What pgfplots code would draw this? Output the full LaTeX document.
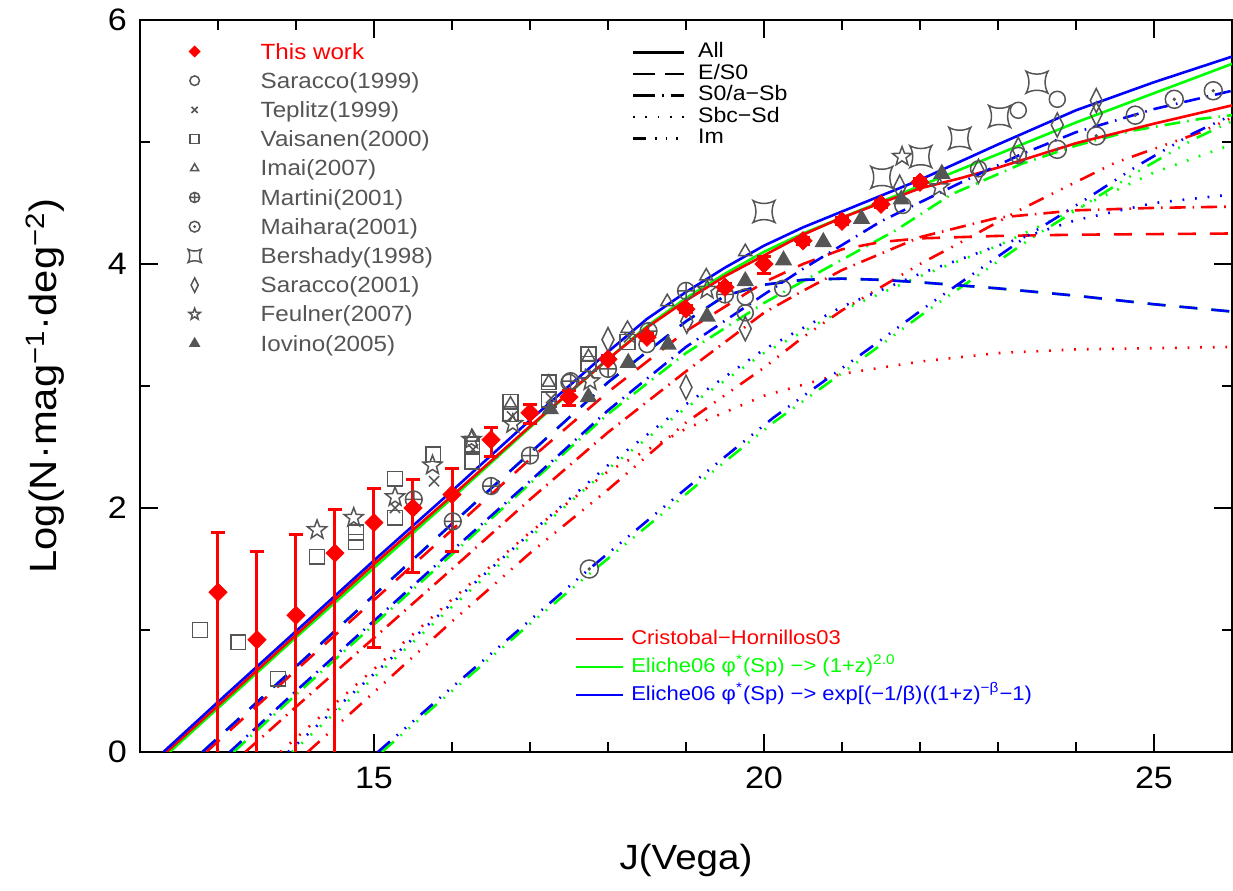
\documentclass[border=0pt]{standalone}
\usepackage{fontspec}
\setmainfont{Liberation Sans}[FakeStretch=1.1]
\usepackage{pgfplots}
\pgfplotsset{compat=1.18}
\usetikzlibrary{plotmarks}
\definecolor{dgray}{RGB}{85,85,85}

\pgfdeclareplotmark{odot}{%
  \pgfpathcircle{\pgfpointorigin}{\pgfplotmarksize}\pgfusepathqstroke
  \pgfpathcircle{\pgfpointorigin}{0.1\pgfplotmarksize}\pgfusepathqfillstroke}
\pgfdeclareplotmark{csquare}{%
  \pgfpathmoveto{\pgfqpoint{-\pgfplotmarksize}{-\pgfplotmarksize}}%
  \pgfpathcurveto{\pgfqpoint{-0.4\pgfplotmarksize}{-0.65\pgfplotmarksize}}{\pgfqpoint{0.4\pgfplotmarksize}{-0.65\pgfplotmarksize}}{\pgfqpoint{\pgfplotmarksize}{-\pgfplotmarksize}}%
  \pgfpathcurveto{\pgfqpoint{0.65\pgfplotmarksize}{-0.4\pgfplotmarksize}}{\pgfqpoint{0.65\pgfplotmarksize}{0.4\pgfplotmarksize}}{\pgfqpoint{\pgfplotmarksize}{\pgfplotmarksize}}%
  \pgfpathcurveto{\pgfqpoint{0.4\pgfplotmarksize}{0.65\pgfplotmarksize}}{\pgfqpoint{-0.4\pgfplotmarksize}{0.65\pgfplotmarksize}}{\pgfqpoint{-\pgfplotmarksize}{\pgfplotmarksize}}%
  \pgfpathcurveto{\pgfqpoint{-0.65\pgfplotmarksize}{0.4\pgfplotmarksize}}{\pgfqpoint{-0.65\pgfplotmarksize}{-0.4\pgfplotmarksize}}{\pgfqpoint{-\pgfplotmarksize}{-\pgfplotmarksize}}%
  \pgfpathclose\pgfusepathqstroke}
\pgfdeclareplotmark{tdiamond}{%
  \pgfpathmoveto{\pgfqpoint{0pt}{\pgfplotmarksize}}%
  \pgfpathlineto{\pgfqpoint{0.5\pgfplotmarksize}{0pt}}%
  \pgfpathlineto{\pgfqpoint{0pt}{-\pgfplotmarksize}}%
  \pgfpathlineto{\pgfqpoint{-0.5\pgfplotmarksize}{0pt}}%
  \pgfpathclose\pgfusepathqstroke}
\pgfdeclareplotmark{ostar}{%
  \pgfpathmoveto{\pgfpointpolar{90}{\pgfplotmarksize}}%
  \pgfpathlineto{\pgfpointpolar{126}{0.42\pgfplotmarksize}}%
  \pgfpathlineto{\pgfpointpolar{162}{\pgfplotmarksize}}%
  \pgfpathlineto{\pgfpointpolar{198}{0.42\pgfplotmarksize}}%
  \pgfpathlineto{\pgfpointpolar{234}{\pgfplotmarksize}}%
  \pgfpathlineto{\pgfpointpolar{270}{0.42\pgfplotmarksize}}%
  \pgfpathlineto{\pgfpointpolar{306}{\pgfplotmarksize}}%
  \pgfpathlineto{\pgfpointpolar{342}{0.42\pgfplotmarksize}}%
  \pgfpathlineto{\pgfpointpolar{18}{\pgfplotmarksize}}%
  \pgfpathlineto{\pgfpointpolar{54}{0.42\pgfplotmarksize}}%
  \pgfpathclose\pgfusepathqstroke}

\tikzset{
  lsolid/.style={line width=1.3pt, solid},
  ldash/.style={line width=1.3pt, dash pattern=on 9pt off 7pt},
  ldashdot/.style={line width=1.3pt, dash pattern=on 8pt off 3.5pt on 0.8pt off 3.5pt},
  ldot/.style={line width=1.3pt, dash pattern=on 0.9pt off 5.4pt},
  lim/.style={line width=1.3pt, dash pattern=on 8pt off 4.5pt on 0.8pt off 4.5pt on 0.8pt off 4.5pt on 0.8pt off 4.5pt},
  gm/.style={only marks, dgray, line width=0.75pt},
}
\pgfplotsset{
  base/.style={scale only axis, width=546pt, height=366pt,
    xmin=12, xmax=26, ymin=0, ymax=6},
}

\begin{document}
\begin{tikzpicture}
\begin{axis}[base,
  xtick={15,20,25}, ytick={0,2,4,6},
  minor xtick={12,...,26}, minor ytick={1,3,5},
  tick align=inside, major tick length=9pt, minor tick length=5pt,
  every tick/.style={black, line width=1pt},
  axis line style={line width=1pt},
  tick label style={font=\fontsize{15.5}{18}\selectfont},
  /pgf/number format/assume math mode=true,
  xticklabel style={yshift=-4pt}, yticklabel style={xshift=-3pt},
  xlabel={J(Vega)},
  ylabel={Log(N·mag\textsuperscript{−1}·deg\textsuperscript{−2})},
  label style={font=\fontsize{19}{22}\selectfont},
  xlabel style={at={(axis description cs:0.5,-0.1475)}, anchor=center, font=\fontsize{17.5}{21}\selectfont},
  ylabel style={at={(axis description cs:-0.087,0.5)}, anchor=center},
]
\coordinate (SW) at (rel axis cs:0,0);
\coordinate (NE) at (rel axis cs:1,1);

% ---------- Green model (Eliche06, (1+z)^2) ----------
\addplot[green, lsolid] coordinates {(12.38,0)(13,0.36)(14,0.94)(15,1.51)(16,2.08)(17,2.66)(18,3.22)(18.5,3.49)(19,3.72)(19.5,3.92)(20,4.1)(20.5,4.25)(21,4.38)(22,4.64)(23,4.9)(24,5.16)(25,5.4)(26,5.64)};
\addplot[green, ldash] coordinates {(12.8,0)(14,0.7)(16,1.87)(17,2.45)(18,3.03)(18.7,3.38)(19,3.53)(19.5,3.74)(20,3.83)(20.5,3.87)(21,3.88)(21.5,3.87)(22,3.85)(23,3.8)(24,3.74)(25,3.67)(26,3.61)};
\addplot[green, ldashdot] coordinates {(13.2,0)(14,0.47)(16,1.62)(17,2.2)(18,2.77)(19,3.27)(20,3.68)(20.7,3.93)(21.7,4.28)(22.4,4.57)(23.3,4.82)(24,4.97)(24.7,5.09)(25.6,5.19)(26,5.22)};
\addplot[green, ldot] coordinates {(13.95,0)(15,0.61)(16,1.19)(17,1.76)(18,2.32)(19,2.82)(20,3.27)(21,3.62)(22,3.9)(23,4.15)(24,4.45)(25,4.75)(26,4.98)};
\addplot[green, lim] coordinates {(15.1,0)(16,0.5)(17,1.05)(17.8,1.48)(18.9,2.06)(19.5,2.38)(20.12,2.7)(20.77,3.0)(21.4,3.29)(22.1,3.62)(22.75,3.91)(23.4,4.2)(24.1,4.48)(24.8,4.76)(25.5,5.02)(26,5.17)};

% ---------- Red model (Cristobal-Hornillos03) ----------
\addplot[red, lsolid] coordinates {(12.34,0)(13,0.38)(14,0.96)(15,1.54)(16,2.1)(17,2.67)(18,3.22)(18.5,3.48)(19,3.7)(19.5,3.9)(20,4.07)(20.5,4.24)(21,4.38)(21.5,4.5)(22,4.62)(22.5,4.7)(23,4.79)(24,4.99)(25,5.15)(26,5.3)};
\addplot[red, ldash] coordinates {(12.85,0)(14,0.67)(16,1.82)(17,2.4)(18,2.95)(19,3.45)(20,3.85)(20.5,4.0)(21,4.12)(21.5,4.18)(22,4.21)(23,4.23)(24,4.24)(26,4.25)};
\addplot[red, ldashdot] coordinates {(13.35,0)(14,0.37)(16,1.5)(17,2.07)(18,2.62)(19,3.12)(20,3.6)(20.5,3.78)(21,3.95)(22,4.22)(23,4.38)(24,4.44)(25,4.46)(26,4.47)};
\addplot[red, ldot] coordinates {(13.8,0)(15,0.68)(16,1.25)(17,1.8)(18,2.3)(19,2.65)(20,2.92)(21,3.1)(22,3.2)(23,3.27)(24,3.3)(26,3.32)};
\addplot[red, lim] coordinates {(14.15,0)(15,0.49)(16,1.07)(17,1.63)(18,2.15)(19,2.7)(20,3.15)(20.5,3.4)(21,3.62)(22,4.0)(22.5,4.17)(23.3,4.45)(24.5,4.83)(25.6,5.08)(26,5.2)};

% ---------- Blue model (Eliche06, exp) ----------
\addplot[blue, lsolid] coordinates {(12.3,0)(13,0.41)(14,0.99)(15,1.57)(16,2.14)(17,2.72)(18,3.28)(18.5,3.55)(19,3.77)(19.5,3.97)(20,4.15)(20.5,4.3)(21,4.43)(22,4.69)(23,4.98)(24,5.26)(25,5.49)(26,5.7)};
\addplot[blue, ldash] coordinates {(12.8,0)(14,0.7)(16,1.87)(17,2.45)(18,3.03)(18.7,3.38)(19,3.53)(19.5,3.74)(20,3.83)(20.5,3.87)(21,3.88)(21.5,3.87)(22,3.85)(23,3.8)(24,3.74)(25,3.67)(26,3.61)};
\addplot[blue, ldashdot] coordinates {(13.15,0)(14,0.5)(16,1.65)(17,2.22)(18,2.8)(19,3.32)(20,3.75)(20.5,3.96)(21.5,4.35)(22.5,4.66)(23.3,4.9)(24,5.08)(25,5.27)(26,5.42)};
\addplot[blue, ldot] coordinates {(13.9,0)(15,0.64)(16,1.22)(17,1.79)(18,2.35)(19,2.85)(20,3.3)(21,3.65)(22,3.92)(23,4.15)(24,4.36)(25,4.5)(26,4.57)};
\addplot[blue, lim] coordinates {(15.05,0)(16,0.53)(17,1.08)(17.76,1.5)(18.87,2.09)(19.5,2.42)(20.12,2.74)(20.77,3.04)(21.4,3.33)(22.1,3.66)(22.75,3.95)(23.4,4.24)(24.1,4.52)(24.8,4.81)(25.5,5.07)(26,5.22)};

% ---------- Literature data ----------
% Saracco(1999)
\addplot[gm, mark=o, mark size=4pt] coordinates {(17.5,3.03)(18.5,3.34)(19.76,3.73)(19.76,3.6)(20.24,3.8)(21.78,4.48)(22.75,4.78)(23.26,4.89)(23.26,5.26)(23.76,5.35)};
% Teplitz(1999)
\addplot[gm, mark=x, mark size=3.6pt] coordinates {(15.27,2.0)(15.77,2.22)(16.27,2.48)(16.77,2.75)(17.27,2.9)(17.77,3.1)(18.27,3.4)};
% Vaisanen(2000)
\addplot[gm, mark=square, mark size=3.7pt] coordinates {(12.77,1.0)(13.26,0.9)(13.77,0.6)(14.27,1.6)(14.77,1.72)(14.77,1.8)(15.27,1.92)(15.27,2.24)(15.76,2.44)(16.26,2.38)(16.26,2.52)(16.75,2.87)(16.75,2.77)(17.24,3.03)(17.24,2.89)(17.75,3.26)(17.75,3.18)(18.25,3.36)};
% Imai(2007)
\addplot[gm, mark=triangle, mark size=3.8pt] coordinates {(16.26,2.58)(16.75,2.85)(17.24,3.03)(17.75,3.24)(18.25,3.47)(18.76,3.69)(19.26,3.9)(19.76,4.1)};
% Martini(2001)
\addplot[gm, mark=oplus, mark size=4.2pt] coordinates {(15.51,2.07)(16.01,1.89)(16.5,2.18)(17.0,2.43)(17.52,3.04)(18.0,3.14)(18.52,3.45)(19.0,3.78)(19.5,3.75)};
% Maihara(2001)
\addplot[gm, mark=odot, mark size=4.5pt] coordinates {(17.76,1.5)(23.76,4.94)(24.26,5.05)(24.76,5.22)(25.26,5.35)(25.76,5.42)};
% Bershady(1998)
\addplot[gm, mark=csquare, mark size=5.5pt] coordinates {(20.0,4.43)(21.51,4.71)(22.01,4.88)(22.51,5.03)(23.02,5.21)(23.5,5.49)};
% Saracco(2001)
\addplot[gm, mark=tdiamond, mark size=6pt] coordinates {(18.0,3.38)(19.0,2.99)(19.01,3.53)(19.76,3.47)(21.74,4.63)(22.75,4.76)(23.26,4.94)(23.76,5.14)(24.26,5.34)(24.26,5.23)};
% Feulner(2007)
\addplot[gm, mark=ostar, mark size=5pt] coordinates {(14.27,1.82)(14.74,1.92)(15.27,2.09)(15.75,2.35)(16.25,2.56)(16.78,2.69)(17.77,3.04)(19.27,3.79)(21.77,4.88)(22.25,4.63)};
% Iovino(2005)
\addplot[gm, mark=triangle*, mark size=4.3pt, fill=dgray] coordinates {(17.26,2.81)(17.75,2.91)(18.26,3.19)(18.77,3.34)(19.27,3.57)(19.76,3.86)(20.25,4.03)(20.76,4.18)(21.25,4.37)(21.76,4.53)(22.28,4.74)};

% This work
\addplot[only marks, red, mark=square*, mark size=3.2pt, mark options={rotate=45, fill=red, draw=red},
  error bars/.cd, y dir=both, y explicit,
  error bar style={line width=1.5pt, red},
  error mark options={rotate=90, mark size=3.5pt, line width=1.5pt, red}]
  table[x=x, y=y, y error plus=ep, y error minus=em] {
x y ep em
13.0 1.31 0.49 2.0
13.5 0.92 0.72 2.0
14.0 1.12 0.66 2.0
14.5 1.63 0.36 2.0
15.0 1.88 0.28 1.02
15.5 2.00 0.23 0.53
16.0 2.11 0.21 0.47
16.5 2.56 0.10 0.14
17.0 2.78 0.07 0.09
17.5 2.91 0.05 0.07
18.0 3.22 0.03 0.03
18.5 3.40 0.03 0.03
19.0 3.63 0.03 0.03
19.5 3.81 0.03 0.03
20.0 4.00 0.06 0.08
20.5 4.19 0.03 0.03
21.0 4.35 0.03 0.03
21.5 4.49 0.03 0.03
22.0 4.67 0.03 0.03
};
\end{axis}

% ---------- Legend 1: data sets ----------
\begin{axis}[base, hide axis,
  legend style={at={(0.044,0.969)}, anchor=north west, draw=none, fill=none,
    inner sep=0pt, outer sep=0pt, row sep=3.8pt, column sep=0pt,
    font=\fontsize{11}{13}\selectfont,
    nodes={inner sep=0pt, text height=8.2pt, text depth=2.6pt, text=dgray}},
  legend cell align=left,
  legend image code/.code={\path[draw=none,fill=none] (-3pt,0pt) rectangle (33pt,0.5pt);
    \draw[#1,/tikz/every mark/.append style={scale=0.6}] plot coordinates {(0pt,1pt)};},
]
\addlegendimage{only marks, red, mark=square*, mark size=3.2pt, mark options={rotate=45, fill=red, draw=red}}
\addlegendentry{\textcolor{red}{This work}}
\addlegendimage{gm, mark=o, mark size=4pt}\addlegendentry{Saracco(1999)}
\addlegendimage{gm, mark=x, mark size=3.6pt}\addlegendentry{Teplitz(1999)}
\addlegendimage{gm, mark=square, mark size=3.7pt}\addlegendentry{Vaisanen(2000)}
\addlegendimage{gm, mark=triangle, mark size=3.8pt}\addlegendentry{Imai(2007)}
\addlegendimage{gm, mark=oplus, mark size=4.2pt}\addlegendentry{Martini(2001)}
\addlegendimage{gm, mark=odot, mark size=4.5pt}\addlegendentry{Maihara(2001)}
\addlegendimage{gm, mark=csquare, mark size=5.5pt}\addlegendentry{Bershady(1998)}
\addlegendimage{gm, mark=tdiamond, mark size=6pt}\addlegendentry{Saracco(2001)}
\addlegendimage{gm, mark=ostar, mark size=5pt}\addlegendentry{Feulner(2007)}
\addlegendimage{gm, mark=triangle*, mark size=4.3pt, fill=dgray}\addlegendentry{Iovino(2005)}
\end{axis}

% ---------- Legend 2: line styles ----------
\begin{axis}[base, hide axis,
  legend style={at={(0.4505,0.9694)}, anchor=north west, draw=none, fill=none,
    inner sep=0pt, outer sep=0pt, row sep=0.45pt, column sep=0pt,
    font=\fontsize{10.5}{12}\selectfont,
    nodes={inner sep=0pt, text height=7.8pt, text depth=2.5pt}},
  legend cell align=left,
  legend image code/.code={\draw[#1] (0pt,0pt) -- (25.5pt,0pt); \path[draw=none] (32.5pt,0pt);},
]
\addlegendimage{black, lsolid, line width=1.2pt}\addlegendentry{All}
\addlegendimage{black, line width=1.2pt, dash pattern=on 11pt off 5pt}\addlegendentry{E/S0}
\addlegendimage{black, line width=1.2pt, dash pattern=on 11pt off 3.5pt on 0.8pt off 3.5pt}\addlegendentry{S0/a−Sb}
\addlegendimage{black, line width=1.2pt, dash pattern=on 0.9pt off 5.2pt}\addlegendentry{Sbc−Sd}
\addlegendimage{black, line width=1.2pt, dash pattern=on 6.5pt off 4.5pt on 0.8pt off 4.5pt on 0.8pt off 4.5pt on 0.8pt off 4.5pt}\addlegendentry{Im}
\end{axis}

% ---------- Legend 3: models ----------
\begin{axis}[base, hide axis,
  legend style={at={(0.3984,0.168)}, anchor=north west, draw=none, fill=none,
    inner sep=0pt, outer sep=0pt, row sep=4pt, column sep=0pt,
    font=\fontsize{10}{12}\selectfont,
    nodes={inner sep=0pt, text height=7.5pt, text depth=2.5pt}},
  legend cell align=left,
  legend image code/.code={\draw[#1] (0pt,0pt) -- (23.5pt,0pt); \path[draw=none] (27.5pt,0pt);},
]
\addlegendimage{red, line width=1.2pt}\addlegendentry{\textcolor{red}{Cristobal−Hornillos03}}
\addlegendimage{green, line width=1.2pt}\addlegendentry{\textcolor{green}{Eliche06 φ\textsuperscript{*}(Sp) −> (1+z)\textsuperscript{2.0}}}
\addlegendimage{blue, line width=1.2pt}\addlegendentry{\textcolor{blue}{Eliche06 φ\textsuperscript{*}(Sp) −> exp[(−1/β)((1+z)\textsuperscript{−β}−1)}}
\end{axis}

\pgfresetboundingbox
\path[use as bounding box] ([xshift=-70pt,yshift=-69.5pt]SW) rectangle ([xshift=0.5pt,yshift=10pt]NE);
\end{tikzpicture}
\end{document}
